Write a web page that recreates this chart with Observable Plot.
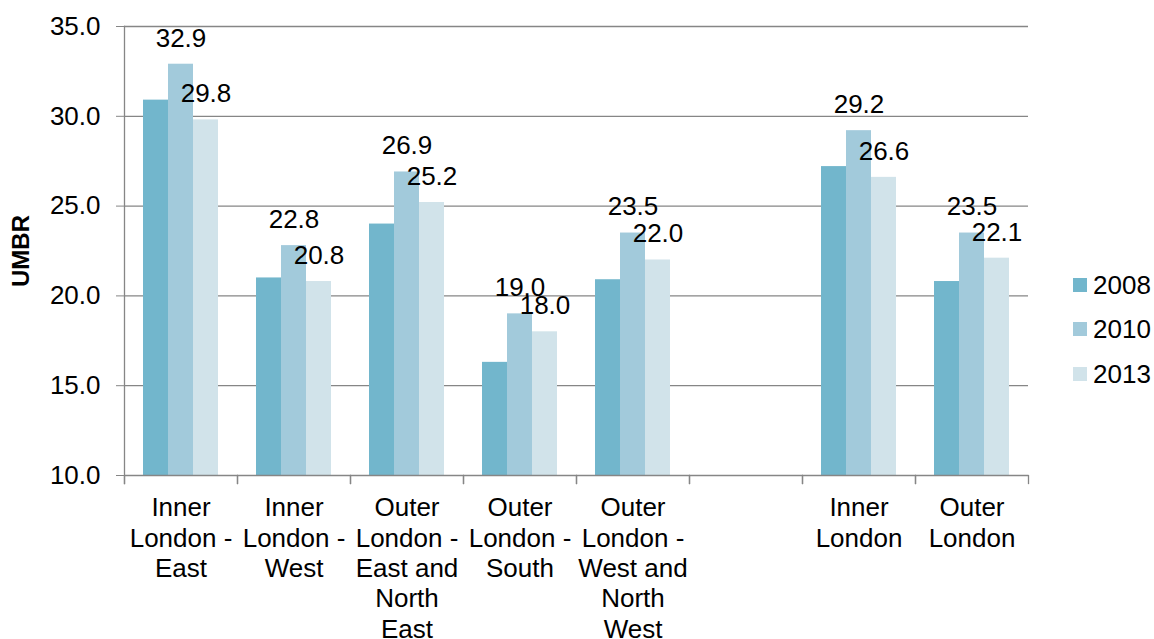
<!DOCTYPE html>
<html><head><meta charset="utf-8">
<script src="https://cdn.jsdelivr.net/npm/d3@7"></script>
<script src="https://cdn.jsdelivr.net/npm/@observablehq/plot@0.6"></script>
<style>
html,body{margin:0;padding:0;background:#fff;}
body{width:1154px;height:639px;position:relative;overflow:hidden;font-family:"Liberation Sans",Arial,sans-serif;}
#chart{position:absolute;left:0;top:0;}
#legend{position:absolute;left:1073px;top:0;}
.item{position:absolute;left:0;display:flex;align-items:center;height:30px;white-space:nowrap;font-size:26px;color:#000;}
.sw{width:14px;height:14px;margin-right:6px;flex:none;}
svg [aria-label="y-axis label"] text{font-weight:bold;font-size:24px;}
</style></head><body>
<div id="chart"></div><div id="legend"></div>
<script>
const categories = ["Inner London - East","Inner London - West","Outer London - East and North East","Outer London - South","Outer London - West and North West"," ","Inner London","Outer London"];
const categoryLabels = ["Inner\nLondon -\nEast","Inner\nLondon -\nWest","Outer\nLondon -\nEast and\nNorth\nEast","Outer\nLondon -\nSouth","Outer\nLondon -\nWest and\nNorth\nWest","","Inner\nLondon","Outer\nLondon"];
const years = ["2008","2010","2013"];
const values2008 = [30.9, 21.0, 24.0, 16.3, 20.9, null, 27.2, 20.8];
const values2010 = [32.9, 22.8, 26.9, 19.0, 23.5, null, 29.2, 23.5];
const values2013 = [29.8, 20.8, 25.2, 18.0, 22.0, null, 26.6, 22.1];
const colors = ["#72b6cc","#a2cadb","#d1e3ea"];
const yTicks = [10, 15, 20, 25, 30, 35];

const seriesByYear = {"2008": values2008, "2010": values2010, "2013": values2013};
const rows = [];
categories.forEach((cat, i) => {
  years.forEach(year => rows.push({cat, year, value: seriesByYear[year][i]}));
});
const labelOf = new Map(categories.map((c, i) => [c, categoryLabels[i]]));
const gray = "#868686";

const plot = Plot.plot({
  width: 1050, height: 639,
  marginLeft: 121, marginRight: 19, marginTop: 26, marginBottom: 164,
  style: {fontFamily: "'Liberation Sans', Arial, sans-serif", fontSize: "26px", color: "#000", background: "transparent"},
  fx: {domain: categories, padding: 0, label: null},
  x: {domain: years, paddingInner: 0, paddingOuter: 0.75, axis: null},
  y: {domain: [10, 35], label: null},
  color: {domain: years, range: colors},
  marks: [
    Plot.ruleY(yTicks.slice(1), {stroke: gray, strokeWidth: 1.3}),
    Plot.barY(rows, {fx: "cat", x: "year", y1: 10, y2: "value", fill: "year"}),
    Plot.ruleY([10], {stroke: gray, strokeWidth: 1.3}),
    Plot.frame({anchor: "left", stroke: gray, strokeWidth: 1.3, facet: "super", insetBottom: -8}),
    Plot.frame({anchor: "left", stroke: gray, strokeWidth: 1.3, insetTop: 449, insetBottom: -8}),
    Plot.frame({anchor: "right", stroke: gray, strokeWidth: 1.3, insetTop: 449, insetBottom: -8}),
    Plot.text(rows.filter(d => d.year !== "2008" && d.value != null), {
      fx: "cat", x: "year", y: "value", text: d => d.value.toFixed(1),
      dy: -26, lineAnchor: "middle", fill: "#000"
    }),
    Plot.axisY({ticks: yTicks, tickFormat: d => d.toFixed(1), tickSize: 8, tickPadding: 16, stroke: gray,
      label: "UMBR", labelAnchor: "center", labelArrow: "none", labelOffset: 113}),
    Plot.axisFx({anchor: "bottom", tickSize: 0, tickPadding: 19, tickFormat: c => labelOf.get(c), lineHeight: 1.17, label: null})
  ]
});
document.getElementById("chart").appendChild(plot);

const legend = document.getElementById("legend");
const legendTops = [270, 314, 359];
years.forEach((y, i) => {
  const item = document.createElement("div");
  item.className = "item";
  item.style.top = legendTops[i] + "px";
  item.innerHTML = `<div class="sw" style="background:${colors[i]}"></div><span>${y}</span>`;
  legend.appendChild(item);
});
</script>
</body></html>
